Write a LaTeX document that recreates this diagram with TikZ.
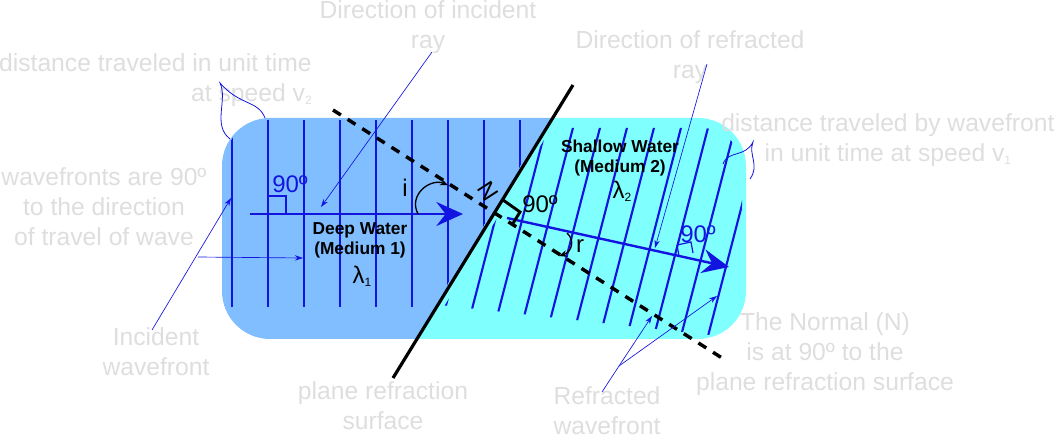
\documentclass[tikz,border=0pt]{standalone}
\usepackage{fontspec}
\setmainfont{Liberation Sans}
\usetikzlibrary{arrows.meta}
\definecolor{deepc}{RGB}{128,190,255}
\definecolor{shalc}{RGB}{128,255,255}
\definecolor{wave}{RGB}{20,20,225}
\definecolor{lbl}{RGB}{222,222,222}
\newcommand{\sbs}[1]{\raisebox{-0.25ex}{\fontsize{9}{9}\selectfont #1}}
\tikzset{
  glabel/.style={text=lbl,font=\fontsize{18.5}{22.5}\selectfont,align=center,inner sep=0pt},
  blabel/.style={text=black,font=\bfseries\fontsize{13}{15}\selectfont,align=center,inner sep=0pt},
  wline/.style={wave,line width=1.6pt},
  leader/.style={wave,line width=0.5pt,-{Stealth[length=6pt,width=4pt]}},
  bigray/.style={wave,line width=1.8pt,-{Stealth[length=20pt,width=18pt,inset=7pt]}},
  ninety/.style={font=\fontsize{18}{18}\selectfont,inner sep=0pt},
}
\begin{document}
\begin{tikzpicture}[x=0.75pt,y=-0.75pt]
\useasboundingbox (0,0) rectangle (1054,438);
% regions
\begin{scope}
\clip[rounded corners=36pt] (222,118) rectangle (746,339);
\fill[deepc] (200,100) -- (563.8,100) -- (404.2,360) -- (200,360) -- cycle;
\fill[shalc] (563.8,100) -- (800,100) -- (800,360) -- (404.2,360) -- cycle;
\end{scope}
% deep wavefronts
\begin{scope}
\clip[rounded corners=30pt] (226,120) rectangle (742,338);
\clip (200,100) -- (561,100) -- (401,360) -- (200,360) -- cycle;
\foreach \x in {232,268,304,340,376,412,448,484,520}
  \draw[wline] (\x,120) -- (\x,307);
\end{scope}
% shallow wavefronts
\begin{scope}
\clip[rounded corners=30pt] (226,128) rectangle (742,338);
\clip (568,100) -- (800,100) -- (800,345) -- (440,305) -- (412,360) -- cycle;
\foreach \k in {-12,...,1}
  \draw[wline] ({707+27*\k},340) -- ({764+27*\k},120);
\end{scope}
% boundary and normal
\coordinate (btop) at (573,85);
\coordinate (bbot) at (393,378);
\draw[black,line width=2.4pt] (bbot) -- (btop);
\coordinate (ntop) at (333,110);
\coordinate (nbot) at (722,358);
\draw[black,line width=2.6pt,dash pattern=on 7pt off 6pt] (ntop) -- (nbot);
% rays
\coordinate (istart) at (250,214);
\coordinate (itip) at (463,214);
\draw[bigray] (istart) -- (itip);
\coordinate (rstart) at (507,218);
\coordinate (rtip) at (729,267);
\draw[bigray] (rstart) -- (rtip);
% right-angle markers
\draw[wave,line width=0.9pt] (268,214) |- (286,196) -- (286,214);
\node[ninety,text=wave,anchor=south west] (n90a) at (272,193) {90º};
\draw[wave,line width=0.9pt] (677,245) -- (679,256) (677,245) -- (691,242) -- (693,253);
\node[ninety,text=wave,anchor=south west] (n90b) at (680,243) {90º};
\draw[black,line width=2.2pt] (503,200) -- (520,212) -- (512,225);
\node[ninety,text=black,anchor=south west] (n90c) at (522,213) {90º};
% angles
\draw[black,line width=1pt,-{Stealth[length=6pt,width=5pt]}] (418,214) .. controls (408,195) and (430,178) .. (448,185);
\node[font=\fontsize{18}{18}\selectfont] (ilab) at (405,188) {i};
\node[font=\fontsize{18}{18}\selectfont,rotate=-57] (nlab) at (488,191) {N};
\draw[black,line width=1pt,-{Stealth[length=6pt,width=5pt]}] (567,233) .. controls (575,240) and (572,252) .. (559,256);
\node[font=\fontsize{18}{18}\selectfont] (rlab) at (580,246) {r};
% medium labels
\node[blabel] (deep) at (360,240) {Deep Water\\(Medium 1)};
\node[font=\fontsize{18}{18}\selectfont] (l1) at (362,276) {λ\sbs{1}};
\node[blabel] (shal) at (620,158) {Shallow Water\\(Medium 2)};
\node[font=\fontsize{18}{18}\selectfont] (l2) at (622,191) {λ\sbs{2}};
% gray labels
\node[glabel] (tinc) at (428,27) {Direction of incident\\ray};
\node[glabel] (tref) at (690,57) {Direction of refracted\\ray};
\node[glabel,align=right,anchor=east] (tdv2) at (312,80) {distance traveled in unit time\\at speed v\sbs{2}};
\node[glabel,anchor=west] (tdv1) at (721,140) {distance traveled by wavefront\\in unit time at speed v\sbs{1}};
\node[glabel] (twf) at (104,207) {wavefronts are 90º\\to the direction\\of travel of wave};
\node[glabel] (tiw) at (156,352) {Incident\\wavefront};
\node[glabel] (tprs) at (383,406) {plane refraction\\surface};
\node[glabel] (trw) at (607,411) {Refracted\\wavefront};
\node[glabel] (tnorm) at (825,354) {The Normal (N)\\is at 90º to the\\plane refraction surface};
% leaders
\coordinate (a1) at (432,52);   \coordinate (a1e) at (321,207);
\draw[leader] (a1) -- (a1e);
\coordinate (a2) at (707,64);   \coordinate (a2e) at (655,248);
\draw[leader] (a2) -- (a2e);
\coordinate (a3) at (152,330);  \coordinate (a3e) at (231,198);
\draw[leader] (a3) -- (a3e);
\coordinate (a4) at (198,257);  \coordinate (a4e) at (303,258);
\draw[leader] (a4) -- (a4e);
\coordinate (a5) at (602,392);  \coordinate (a5m) at (619,366);
\coordinate (a5e) at (652,316); \coordinate (a6e) at (717,296);
\draw[wave,line width=0.5pt] (a5) -- (a5m);
\draw[leader] (a5m) -- (a5e);
\draw[leader] (a5m) -- (a6e);
% braces
\coordinate (br1) at (220,83);
\draw[wave,line width=0.6pt] (265,118) .. controls (258,100) and (240,106) .. (br1)
  .. controls (228,100) and (212,125) .. (230,139);
\coordinate (br2) at (753,142);
\draw[wave,line width=0.6pt] (723,164) .. controls (728,150) and (745,158) .. (br2)
  .. controls (748,155) and (760,165) .. (750,179);
\end{tikzpicture}
\end{document}
